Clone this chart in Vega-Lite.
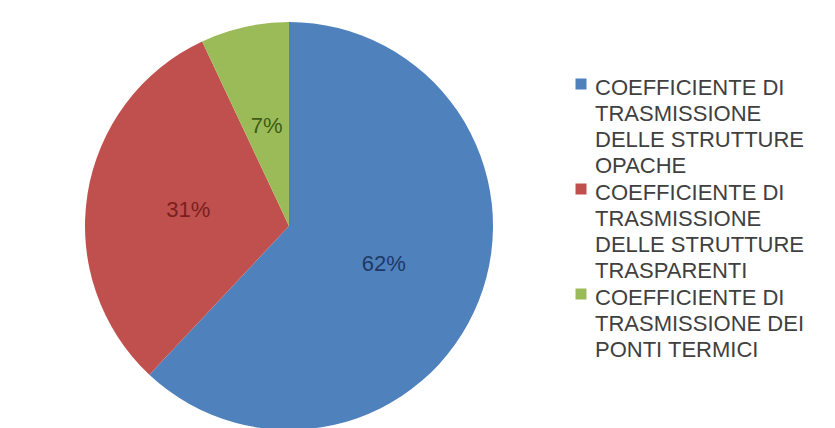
{
  "$schema": "https://vega.github.io/schema/vega-lite/v6.json",
  "width": 408,
  "height": 408,
  "autosize": {"type": "none"},
  "padding": {"left": 85, "top": 22, "right": 342, "bottom": 0},
  "background": "white",
  "view": {"stroke": null},
  "data": {
    "values": [
      {"cat": "COEFFICIENTE DI|TRASMISSIONE|DELLE STRUTTURE|OPACHE", "share": 62, "ord": 1, "lab": "62%"},
      {"cat": "COEFFICIENTE DI|TRASMISSIONE|DELLE STRUTTURE|TRASPARENTI", "share": 31, "ord": 2, "lab": "31%"},
      {"cat": "COEFFICIENTE DI|TRASMISSIONE DEI|PONTI TERMICI", "share": 7, "ord": 3, "lab": "7%"}
    ]
  },
  "encoding": {
    "theta": {"field": "share", "type": "quantitative", "stack": true},
    "order": {"field": "ord", "type": "quantitative"}
  },
  "layer": [
    {
      "mark": {"type": "arc", "outerRadius": 204},
      "encoding": {
        "color": {
          "field": "cat",
          "type": "nominal",
          "sort": null,
          "scale": {
            "domain": [
              "COEFFICIENTE DI|TRASMISSIONE|DELLE STRUTTURE|OPACHE",
              "COEFFICIENTE DI|TRASMISSIONE|DELLE STRUTTURE|TRASPARENTI",
              "COEFFICIENTE DI|TRASMISSIONE DEI|PONTI TERMICI"
            ],
            "range": ["#4f81bd", "#c0504d", "#9bbb59"]
          },
          "legend": {
            "title": null,
            "orient": "none",
            "legendX": 485,
            "legendY": 51,
            "padding": 0,
            "symbolType": "square",
            "symbolSize": 121,
            "symbolStrokeWidth": 0,
            "labelOffset": 3,
            "labelFont": "Liberation Sans",
            "labelFontSize": 22,
            "labelColor": "#404040",
            "labelLimit": 300,
            "labelBaseline": "top",
            "rowPadding": 1,
            "labelExpr": "split(datum.label, '|')",
            "encode": {"labels": {"update": {"lineHeight": {"value": 26}, "dy": {"value": -6}}}}
          }
        }
      }
    },
    {
      "mark": {"type": "text", "radius": 102, "font": "Liberation Sans", "fontSize": 22},
      "encoding": {
        "text": {"field": "lab", "type": "nominal"},
        "color": {
          "field": "cat",
          "type": "nominal",
          "scale": {
            "domain": [
              "COEFFICIENTE DI|TRASMISSIONE|DELLE STRUTTURE|OPACHE",
              "COEFFICIENTE DI|TRASMISSIONE|DELLE STRUTTURE|TRASPARENTI",
              "COEFFICIENTE DI|TRASMISSIONE DEI|PONTI TERMICI"
            ],
            "range": ["#1f3864", "#7a1f1d", "#3e5b17"]
          },
          "legend": null
        }
      }
    }
  ],
  "resolve": {"scale": {"color": "independent"}}
}
